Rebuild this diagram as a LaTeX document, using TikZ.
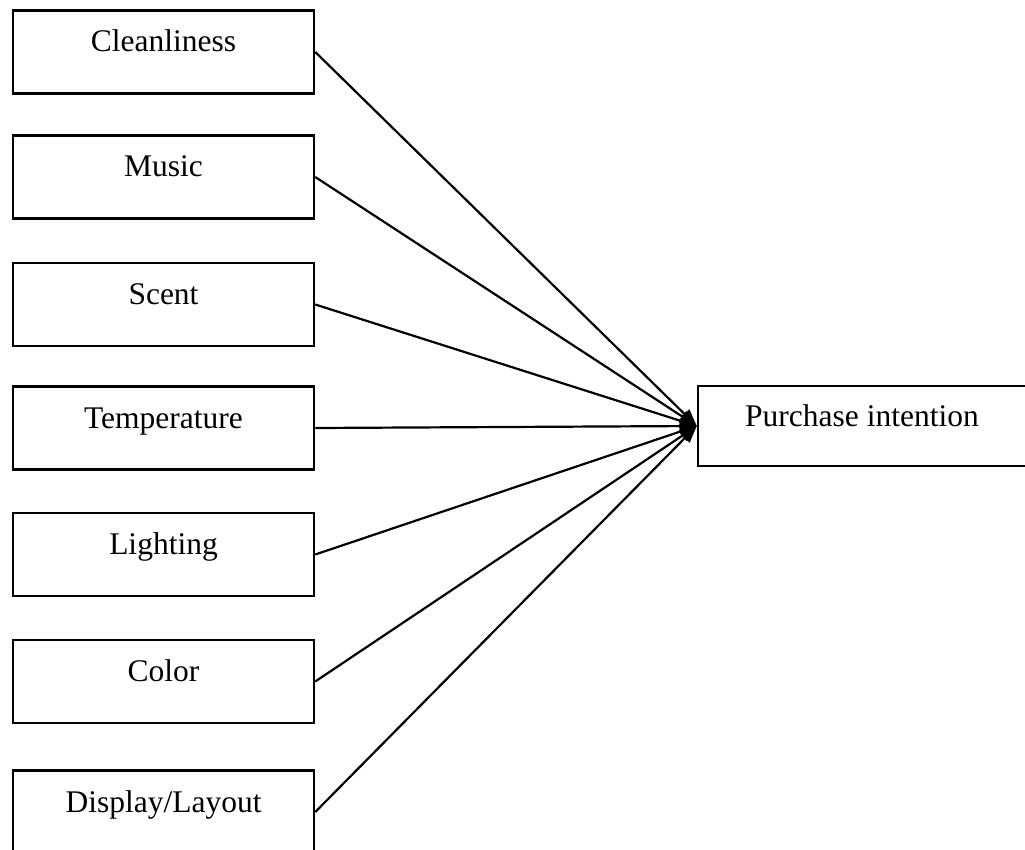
\documentclass[tikz,border=0pt]{standalone}
\usepackage{fontspec}
\setmainfont{Liberation Serif}
\usetikzlibrary{arrows.meta}
\begin{document}
\begin{tikzpicture}[x=1pt,y=-1pt,
  factor/.style={draw, line width=2.5pt, inner sep=0pt, minimum width=301pt,
    text height=41.5pt, text depth=41.5pt, font=\fontsize{31.5}{38}\selectfont},
  outcome/.style={factor, minimum width=328pt, text height=40pt, text depth=40pt},
  link/.style={line width=2.2pt, -{Triangle[length=17pt,width=13pt]}}]
\useasboundingbox (0,0) rectangle (1025,850);

% environmental factors
\node[factor] (clean) at (163.5,52)    {Cleanliness};
\node[factor] (music) at (163.5,177)   {Music};
\node[factor] (scent) at (163.5,304.5) {Scent};
\node[factor] (temp)  at (163.5,428)   {Temperature};
\node[factor] (light) at (163.5,554.5) {Lighting};
\node[factor] (color) at (163.5,681.5) {Color};
\node[factor] (disp)  at (163.5,812)   {Display/Layout};

% outcome
\node[outcome] (pi) at (862,426) {Purchase intention};

% effects
\foreach \f in {clean,music,scent,temp,light,color,disp}
  \draw[link] (\f.east) -- (pi.west);
\end{tikzpicture}
\end{document}
